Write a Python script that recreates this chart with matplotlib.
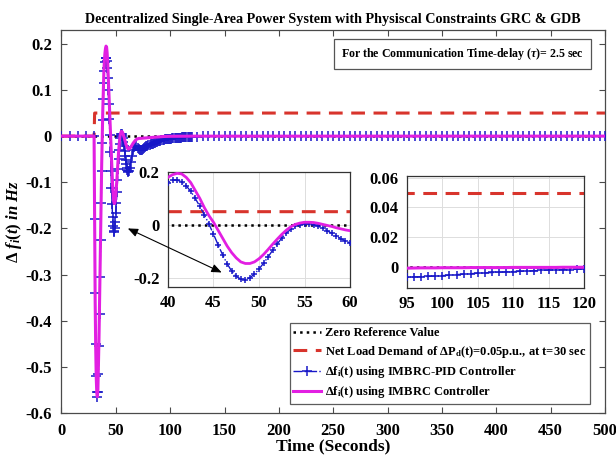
import numpy as np
import matplotlib
matplotlib.use("Agg")
import matplotlib.pyplot as plt
from matplotlib.patches import ConnectionPatch

plt.rcParams['font.family'] = ['Liberation Serif', 'DejaVu Serif']
plt.rcParams['font.weight'] = 'bold'
plt.rcParams['mathtext.fontset'] = 'custom'
plt.rcParams['mathtext.rm'] = 'Liberation Serif:bold'
plt.rcParams['mathtext.it'] = 'Liberation Serif:bold:italic'
plt.rcParams['mathtext.bf'] = 'Liberation Serif:bold'

# ---------------- data ----------------
t_pre = [0, 7.5, 15, 22.5]
t_osc = list(np.arange(30, 62.01, 0.5))          # 30 .. 62 s, 0.5 s samples
t_mid = list(range(63, 121))                     # 63 .. 120 s, 1 s samples
t_tail = list(range(125, 501, 5))                # 125 .. 500 s, 5 s samples
time = np.array(t_pre + t_osc + t_mid + t_tail, dtype=float)

pre_vals = [0.0, 0.0, 0.0, 0.0]

imbrc_osc = [0.0, -0.20, -0.36, -0.46, -0.525, -0.557, -0.565, -0.55, -0.50, -0.44,
             -0.37, -0.29, -0.21, -0.13, -0.06, 0.0, 0.055, 0.10, 0.14, 0.165,
             0.18, 0.19, 0.195, 0.193, 0.18, 0.16, 0.13, 0.10, 0.065, 0.035,
             0.01, -0.02, -0.05, -0.08, -0.105, -0.125, -0.14, -0.146, -0.146, -0.14,
             -0.128, -0.112, -0.093, -0.073, -0.054, -0.036, -0.02, -0.007, 0.002, 0.007,
             0.01, 0.01, 0.009, 0.006, 0.002, -0.002, -0.006, -0.011, -0.015, -0.019,
             -0.022, -0.025, -0.027, -0.028, -0.028]
imbrc_mid = [-0.026, -0.023, -0.019, -0.015, -0.012, -0.009, -0.007, -0.006, -0.005, -0.005,
             -0.0048, -0.0046, -0.0044, -0.0042, -0.004, -0.0038, -0.0036, -0.0034, -0.0032, -0.003,
             -0.0028, -0.0026, -0.0024, -0.0022, -0.002, -0.0018, -0.0016, -0.0014, -0.0012, -0.001,
             -0.0009, -0.0008, -0.0007, -0.0006, -0.0005, -0.0005, -0.0005, -0.0004, -0.0004, -0.0004,
             -0.0004, -0.0003, -0.0003, -0.0003, -0.0003, -0.0003, -0.0003, -0.0002, -0.0002, -0.0002,
             -0.0002, -0.0002, -0.0002, -0.0002, -0.0001, -0.0001, -0.0001, -0.0001]
imbrc_tail = [0.0] * len(t_tail)

pid_osc = [0.0, -0.18, -0.34, -0.45, -0.52, -0.555, -0.565, -0.555, -0.515, -0.455,
           -0.385, -0.305, -0.225, -0.145, -0.075, -0.015, 0.035, 0.08, 0.115, 0.142,
           0.16, 0.169, 0.17, 0.163, 0.148, 0.127, 0.10, 0.07, 0.038, 0.003,
           -0.035, -0.075, -0.113, -0.147, -0.175, -0.195, -0.205, -0.207, -0.20, -0.186,
           -0.167, -0.145, -0.121, -0.096, -0.072, -0.05, -0.031, -0.016, -0.005, 0.001,
           0.004, 0.004, 0.001, -0.005, -0.013, -0.022, -0.032, -0.042, -0.052, -0.061,
           -0.068, -0.073, -0.076, -0.077, -0.075]
pid_mid = [-0.068, -0.055, -0.042, -0.031, -0.024, -0.021, -0.022, -0.025, -0.028, -0.030,
           -0.030, -0.029, -0.027, -0.025, -0.024, -0.022, -0.021, -0.020, -0.019, -0.018,
           -0.017, -0.016, -0.015, -0.014, -0.013, -0.012, -0.011, -0.0105, -0.0097, -0.009,
           -0.0082, -0.0075, -0.0068, -0.0066, -0.0064, -0.0062, -0.006, -0.0057, -0.0054, -0.005,
           -0.0047, -0.0044, -0.0041, -0.0039, -0.0036, -0.0034, -0.0032, -0.003, -0.0028, -0.0026,
           -0.0024, -0.0022, -0.002, -0.0019, -0.0017, -0.0016, -0.0014, -0.0013]
pid_tail = [-0.001, -0.0008, -0.0006, -0.0004, -0.0002] + [0.0] * (len(t_tail) - 5)

f_imbrc = np.array(pre_vals + imbrc_osc + imbrc_mid + imbrc_tail)
f_pid = np.array(pre_vals + pid_osc + pid_mid + pid_tail)

t_load = [0, 30, 30.5, 500]
p_load = [0.0, 0.0, 0.05, 0.05]
t_zero = [0, 500]
zero_ref = [0.0, 0.0]

# ---------------- styles ----------------
C_BLUE = '#1818C8'
C_MAG = '#E21FE2'
C_RED = '#D8342C'
SPINE = '#4a4a4a'

fig = plt.figure(figsize=(6.16, 4.55), dpi=100)
ax = fig.add_axes([0.0998, 0.0923, 0.8823, 0.8418])


def draw(a, ms=6, lw_m=2.2):
    a.plot(t_zero, zero_ref, ':', color='black', lw=1.8, label='Zero Reference Value', zorder=2)
    a.plot(t_load, p_load, '--', color=C_RED, lw=2.2, dashes=(4.5, 2.8),
           label=r'Net Load Demand of $\Delta$P$_{\mathregular{d}}$(t)=0.05p.u., at t=30 sec', zorder=2)
    a.plot(time, f_pid, '-.', color=C_BLUE, lw=1.0, marker='+', ms=ms, mew=1.1,
           label=r'$\Delta$f$_{\mathregular{i}}$(t) using IMBRC-PID Controller', zorder=3)
    a.plot(time, f_imbrc, '-', color=C_MAG, lw=lw_m,
           label=r'$\Delta$f$_{\mathregular{i}}$(t) using IMBRC Controller', zorder=4)


draw(ax, ms=7)
ax.set_xlim(0, 500)
ax.set_ylim(-0.6, 0.23)
ax.set_xticks([0, 50, 100, 150, 200, 250, 300, 350, 400, 450, 500])
ax.set_yticks([-0.6, -0.5, -0.4, -0.3, -0.2, -0.1, 0, 0.1, 0.2])
ax.set_yticklabels(['-0.6', '-0.5', '-0.4', '-0.3', '-0.2', '-0.1', '0', '0.1', '0.2'])
ax.tick_params(direction='in', top=True, right=True, length=4, width=0.8,
               labelsize=12, color=SPINE, pad=7)
for s in ax.spines.values():
    s.set_color(SPINE)
    s.set_linewidth(0.9)
ax.set_xlabel('Time (Seconds)', fontsize=12.5, fontweight='bold', labelpad=0)
ax.set_ylabel(r'$\Delta$ $f_i(t)$ $in$ $Hz$', fontsize=12, labelpad=1)
ax.set_title('Decentralized Single-Area Power System with Physiscal Constraints GRC & GDB',
             fontsize=10.2, fontweight='bold', pad=5)

ax.text(0.514, 0.937, r'For the Communication Time-delay ($\tau$)= 2.5 sec',
        transform=ax.transAxes, fontsize=8.55, fontweight='bold', va='center', ha='left',
        bbox=dict(boxstyle='square,pad=0.6', fc='white', ec='#555555', lw=0.9), zorder=6)

leg = ax.legend(loc='lower right', bbox_to_anchor=(0.972, 0.0235), fontsize=9,
                frameon=True, fancybox=False, edgecolor='#333333', handlelength=2.2,
                handletextpad=0.3, borderpad=0.3, labelspacing=0.35, numpoints=1,
                borderaxespad=0.0)
leg.get_frame().set_linewidth(0.9)
leg.set_zorder(10)

# ---------------- inset 1 ----------------
ax1 = fig.add_axes([0.2727, 0.3692, 0.2955, 0.2527])
draw(ax1, ms=5, lw_m=2.0)
ax1.set_xlim(40, 60)
ax1.set_ylim(-0.235, 0.2)
ax1.set_xticks([40, 45, 50, 55, 60])
ax1.set_yticks([-0.2, 0, 0.2])
ax1.set_yticklabels(['-0.2', '0', '0.2'])
ax1.grid(True, color='#dddddd', lw=0.7)
ax1.tick_params(direction='in', length=0, labelsize=12, pad=6)
for s in ax1.spines.values():
    s.set_color('#333333')
    s.set_linewidth(0.9)

# ---------------- inset 2 ----------------
ax2 = fig.add_axes([0.6607, 0.367, 0.2873, 0.246])
draw(ax2, ms=6, lw_m=2.2)
ax2.set_xlim(95, 120)
ax2.set_ylim(-0.014, 0.061)
ax2.set_xticks([95, 100, 105, 110, 115, 120])
ax2.set_yticks([0, 0.02, 0.04, 0.06])
ax2.set_yticklabels(['0', '0.02', '0.04', '0.06'])
ax2.grid(True, color='#dddddd', lw=0.7)
ax2.tick_params(direction='in', length=0, labelsize=12, pad=6)
for s in ax2.spines.values():
    s.set_color('#333333')
    s.set_linewidth(0.9)

# ---------------- double arrow ----------------
con = ConnectionPatch(xyA=(61, -0.2), coordsA=ax.transData,
                      xyB=(45.9, -0.18), coordsB=ax1.transData,
                      arrowstyle='<|-|>,head_length=0.6,head_width=0.25',
                      color='black', lw=0.8, zorder=20)
fig.add_artist(con)

fig.savefig('out.png', dpi=100)
